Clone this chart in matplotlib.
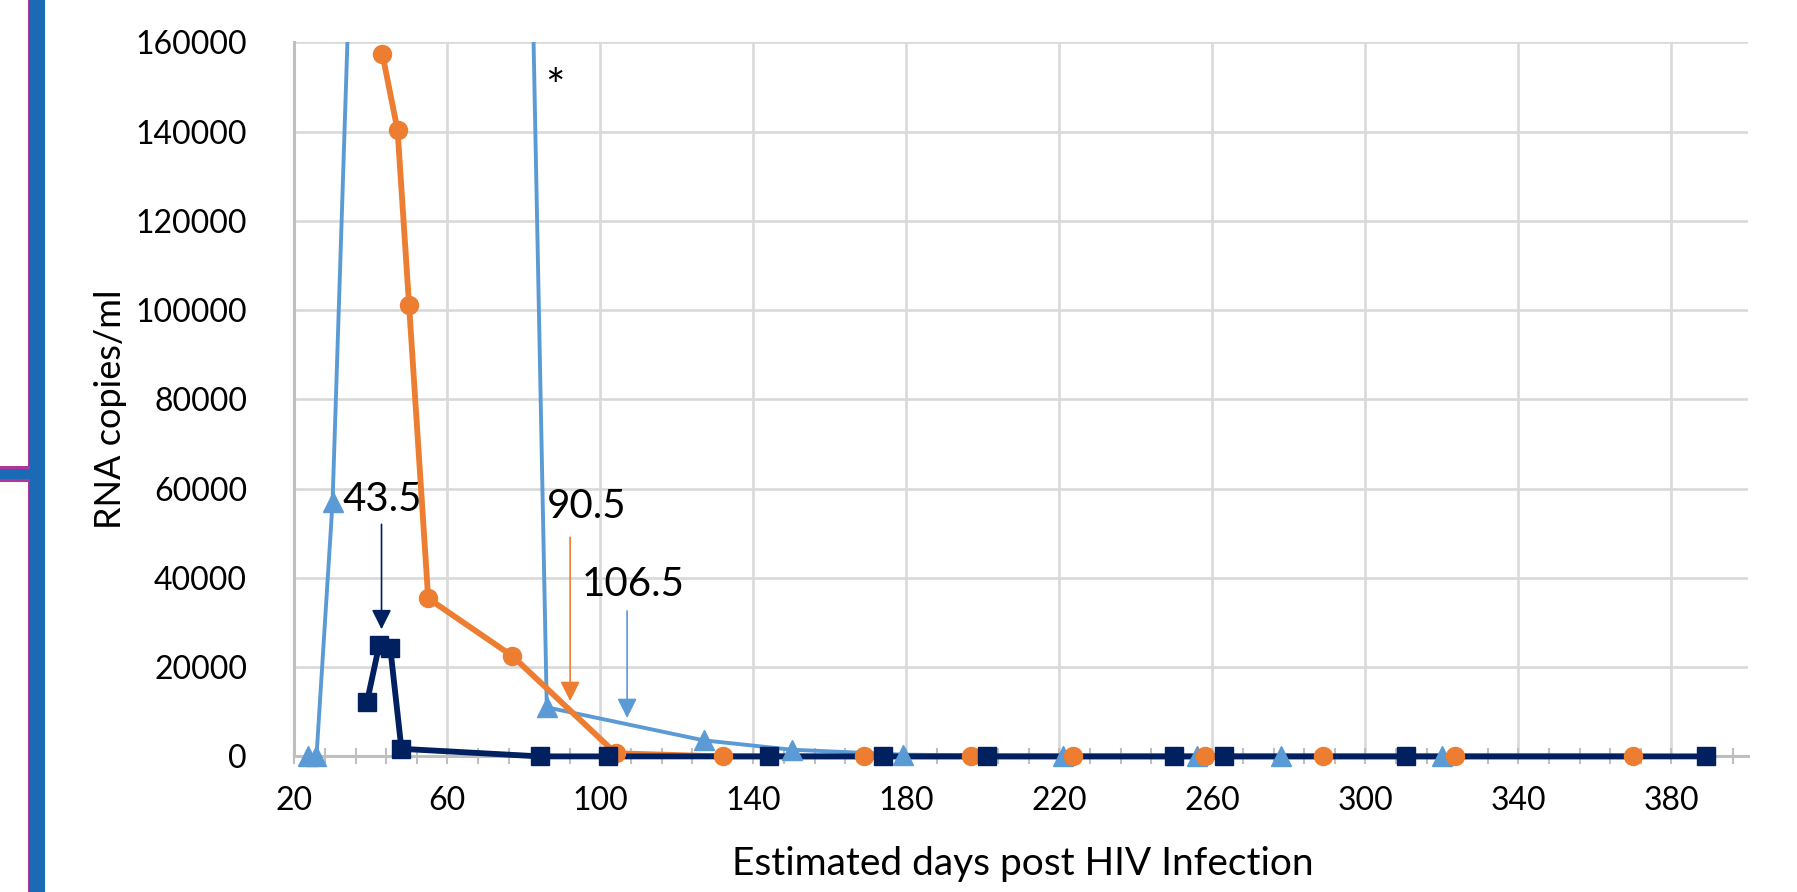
import matplotlib

matplotlib.use("Agg")
import matplotlib.pyplot as plt
import numpy as np
from matplotlib.patches import Rectangle

plt.rcParams["font.family"] = ["Lato", "DejaVu Sans"]

# light blue series (triangles) - the peak runs off the top of the chart
blue_days = [23.5, 25.8, 30, 64, 86, 127, 150, 179, 221, 256, 278, 320]
blue_rna = [0, 0, 57000, 960000, 11000, 3600, 1500, 400, 0, 0, 0, 0]

# orange series (circles)
orange_days = [43, 47, 50, 55, 77, 104, 132, 169, 197, 223.5, 258, 289, 323.5, 370]
orange_rna = [157500, 140300, 101200, 35400, 22500, 700, 0, 0, 0, 0, 0, 0, 0, 0]

# dark navy series (squares)
navy_days = [39, 42.2, 45.1, 48, 84.2, 102, 144, 174, 201, 250, 263, 310.5, 389]
navy_rna = [12200, 25000, 24200, 1700, 0, 0, 0, 0, 0, 0, 0, 0, 0]

# arrow annotations: label, label position, arrow x, arrow tail / tip
notes = [
    ("43.5", 43.0, 57500, 42.8, 52000, 28500, "#002060"),
    ("90.5", 96.5, 56000, 92.1, 49100, 12400, "#ED7D31"),
    ("106.5", 108.5, 38500, 107.0, 32600, 8600, "#5B9BD5"),
]

BLUE = "#5B9BD5"
ORANGE = "#ED7D31"
NAVY = "#002060"
W, H = 1797, 892

fig = plt.figure(figsize=(W / 100, H / 100), dpi=100)
ax = fig.add_axes([294.3 / W, 1 - 756.4 / H, 1453.7 / W, 714 / H])

# clip only at the top so marks sitting on zero are not cut in half
clip = Rectangle((0, -0.2), 1, 1.2, transform=ax.transAxes, fill=False, visible=False)
ax.add_patch(clip)

# lines first, markers on top (like Excel)
arts = []
arts += ax.plot(blue_days, blue_rna, color=BLUE, lw=2.8, zorder=3, solid_joinstyle="round")
arts += ax.plot(orange_days, orange_rna, color=ORANGE, lw=4.2, zorder=4, solid_joinstyle="round")
arts += ax.plot(navy_days, navy_rna, color=NAVY, lw=4.2, zorder=5, solid_joinstyle="round")
arts += ax.plot(blue_days, blue_rna, ls="none", marker="^", ms=15, color=BLUE, zorder=6)
arts += ax.plot(orange_days, orange_rna, ls="none", marker="o", ms=13, color=ORANGE, zorder=7)
arts += ax.plot(navy_days, navy_rna, ls="none", marker="s", ms=13, color=NAVY, zorder=8)
for a in arts:
    a.set_clip_path(clip)

for label, tx, ty, axx, tail, tip, col in notes:
    ax.text(tx, ty, label, fontsize=29, ha="center", va="center", color="black", zorder=9)
    ax.annotate("", xy=(axx, tip), xytext=(axx, tail),
                arrowprops=dict(arrowstyle="-|>,head_length=0.6,head_width=0.3",
                                mutation_scale=20, color=col, lw=1.2,
                                shrinkA=0, shrinkB=0), zorder=9)
ax.text(88.2, 149500, "*", fontsize=33, ha="center", va="center", color="black")

ax.set_xlim(20, 400)
ax.set_ylim(0, 160000)
ax.set_xticks(np.arange(20, 381, 40))
ax.set_xticks(np.arange(20, 400, 8), minor=True)
ax.set_yticks(np.arange(0, 160001, 20000))
ax.grid(True, which="major", color="#D9D9D9", lw=1.9, zorder=0)
ax.set_axisbelow(True)
for side in ("top", "right"):
    ax.spines[side].set_visible(False)
for side in ("left", "bottom"):
    ax.spines[side].set_color("#BFBFBF")
    ax.spines[side].set_linewidth(2.2)
ax.tick_params(axis="x", which="both", direction="inout", length=12, width=1.5,
               color="#BFBFBF", labelsize=23, pad=15)
ax.tick_params(axis="y", length=0, labelsize=23, pad=34)
ax.set_xlabel("Estimated days post HIV Infection", fontsize=28)
ax.set_ylabel("RNA copies/ml", fontsize=26)
ax.xaxis.set_label_coords(0.501, -0.125)
ax.yaxis.set_label_coords(-0.115, 0.486)

# slide decoration on the left edge
MAG = "#B0369D"
DEC = "#1A6AB6"
def px_rect(x0, y0, x1, y1, color):
    fig.add_artist(Rectangle((x0 / W, 1 - y1 / H), (x1 - x0) / W, (y1 - y0) / H,
                             transform=fig.transFigure, color=color, lw=0))

px_rect(27.7, 0, 29.5, H, MAG)
px_rect(29.3, 0, 45, H, DEC)
px_rect(0, 466, 29.5, 482, MAG)
px_rect(0, 468.7, 30, 479.3, DEC)

fig.savefig("out.png", dpi=100)
